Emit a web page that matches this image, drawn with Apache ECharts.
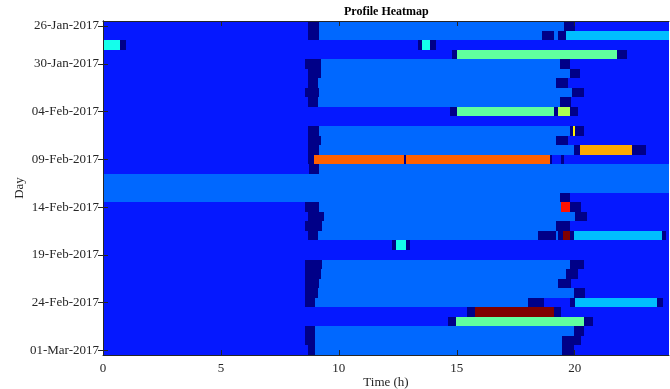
<!DOCTYPE html>
<html>
<head>
<meta charset="utf-8">
<script src="https://cdn.jsdelivr.net/npm/echarts@6/dist/echarts.min.js"></script>
<style>
  html, body { margin: 0; padding: 0; background: #fff; }
  #chart { width: 670px; height: 389px; }
</style>
</head>
<body>
<div id="chart"></div>
<script>
// Day categories (top to bottom)
const days = [
  "26-Jan-2017", "27-Jan-2017", "28-Jan-2017", "29-Jan-2017", "30-Jan-2017",
  "31-Jan-2017", "01-Feb-2017", "02-Feb-2017", "03-Feb-2017", "04-Feb-2017",
  "05-Feb-2017", "06-Feb-2017", "07-Feb-2017", "08-Feb-2017", "09-Feb-2017",
  "10-Feb-2017", "11-Feb-2017", "12-Feb-2017", "13-Feb-2017", "14-Feb-2017",
  "15-Feb-2017", "16-Feb-2017", "17-Feb-2017", "18-Feb-2017", "19-Feb-2017",
  "20-Feb-2017", "21-Feb-2017", "22-Feb-2017", "23-Feb-2017", "24-Feb-2017",
  "25-Feb-2017", "26-Feb-2017", "27-Feb-2017", "28-Feb-2017", "01-Mar-2017",
];

// Days that get a tick label
const labelledDays = [0, 4, 9, 14, 19, 24, 29, 34];

// Hour ticks on the x axis
const hourTicks = [0, 5, 10, 15, 20];

// Level -> colour (jet-like colormap)
const levelColors = {
  D: "#000088",
  B: "#0518FF",
  M: "#0068FF",
  L: "#00BEFF",
  C: "#14FFEB",
  G: "#60FF9E",
  YG: "#ADFF52",
  Y: "#FFF000",
  O: "#FFAA00",
  RO: "#FF6000",
  R: "#FF1200",
  DR: "#800000",
};

// Each day: breakpoints in hours alternating with the level between them
const profiles = [
  [0, "B", 8.68, "D", 9.17, "M", 19.55, "D", 20.03, "B", 24],
  [0, "B", 8.68, "D", 9.17, "M", 18.62, "D", 19.12, "M", 19.28, "D", 19.63, "L", 24],
  [0, "C", 0.74, "D", 0.99, "B", 13.36, "D", 13.51, "C", 13.87, "D", 14.11, "B", 24],
  [0, "B", 14.78, "D", 15.02, "G", 21.79, "D", 22.21, "B", 24],
  [0, "B", 8.58, "D", 9.24, "M", 19.37, "D", 19.79, "B", 24],
  [0, "B", 8.68, "D", 9.24, "M", 19.79, "D", 20.21, "B", 24],
  [0, "B", 8.68, "D", 9.1, "M", 19.21, "D", 19.7, "B", 24],
  [0, "B", 8.58, "D", 9.17, "M", 19.89, "D", 20.38, "B", 24],
  [0, "B", 8.68, "D", 9.1, "M", 19.37, "D", 19.86, "B", 24],
  [0, "B", 14.7, "D", 15.02, "G", 19.11, "D", 19.28, "YG", 19.79, "D", 20.13, "B", 24],
  [0, "B", 24],
  [0, "B", 8.68, "D", 9.17, "M", 19.79, "D", 19.93, "Y", 20.03, "D", 20.38, "B", 24],
  [0, "B", 8.68, "D", 9.24, "M", 19.21, "D", 19.7, "B", 24],
  [0, "B", 8.68, "D", 9.17, "M", 19.96, "D", 20.21, "O", 22.45, "D", 23.03, "B", 24],
  [0, "B", 8.68, "D", 8.93, "RO", 12.77, "D", 12.85, "RO", 18.94, "D", 19.04, "B", 19.44, "D", 19.53, "B", 24],
  [0, "B", 8.75, "D", 9.17, "M", 24],
  [0, "M", 24],
  [0, "M", 24],
  [0, "M", 19.37, "D", 19.79, "B", 24],
  [0, "B", 8.58, "D", 9.17, "M", 19.44, "R", 19.79, "D", 20.28, "B", 24],
  [0, "B", 8.68, "D", 9.35, "M", 20.03, "D", 20.52, "B", 24],
  [0, "B", 8.58, "D", 9.27, "M", 19.21, "D", 19.79, "B", 24],
  [0, "B", 8.68, "D", 9.1, "M", 18.45, "D", 19.21, "M", 19.28, "D", 19.51, "DR", 19.79, "D", 19.96, "L", 23.72, "D", 23.88, "B", 24],
  [0, "B", 12.27, "D", 12.44, "C", 12.84, "D", 13.01, "B", 24],
  [0, "B", 24],
  [0, "B", 8.58, "D", 9.27, "M", 19.79, "D", 20.38, "B", 24],
  [0, "B", 8.58, "D", 9.24, "M", 19.63, "D", 20.13, "B", 24],
  [0, "B", 8.58, "D", 9.17, "M", 19.3, "D", 19.86, "B", 24],
  [0, "B", 8.58, "D", 9.1, "M", 19.96, "D", 20.45, "B", 24],
  [0, "B", 8.58, "D", 9.0, "M", 18.04, "D", 18.69, "B", 19.79, "D", 20.03, "L", 23.47, "D", 23.73, "B", 24],
  [0, "B", 15.45, "D", 15.79, "DR", 19.11, "D", 19.44, "B", 24],
  [0, "B", 14.62, "D", 14.95, "G", 20.38, "D", 20.78, "B", 24],
  [0, "B", 8.58, "D", 9.0, "M", 19.96, "D", 20.38, "B", 24],
  [0, "B", 8.58, "D", 9.0, "M", 19.47, "D", 20.28, "B", 24],
  [0, "B", 8.68, "D", 9.0, "M", 19.47, "D", 19.96, "B", 24],
];

const FONT = "Liberation Serif";
const TEXT_COLOR = "#262626";

// Flatten profiles into [dayIndex, start, end, level]
const segments = [];
profiles.forEach((p, day) => {
  for (let i = 1; i < p.length; i += 2) {
    segments.push([day, p[i - 1], p[i + 1], p[i]]);
  }
});

const chart = echarts.init(document.getElementById("chart"), null, { renderer: "canvas" });

const showDay = (index) => labelledDays.includes(index);

// One rectangle per segment, snapped to whole pixels so rows don't seam
function renderItem(params, api) {
  const start = api.coord([api.value(1), api.value(0)]);
  const end = api.coord([api.value(2), api.value(0)]);
  const h = api.size([0, 1])[1];
  const y0 = Math.round(start[1] - h / 2);
  const y1 = Math.round(start[1] + h / 2);
  const x0 = Math.round(start[0]);
  const x1 = Math.round(end[0]);
  return {
    type: "rect",
    shape: { x: x0, y: y0, width: Math.max(x1 - x0, 1), height: y1 - y0 },
    style: { fill: levelColors[segments[params.dataIndex][3]] },
  };
}

const baseX = {
  type: "value",
  min: 0,
  max: 24,
  interval: 5,
  z: 10,
  splitLine: { show: false },
  axisLine: { show: true, lineStyle: { color: TEXT_COLOR, width: 1 } },
  axisTick: {
    show: true,
    inside: true,
    length: 5,
    lineStyle: { color: TEXT_COLOR },
    customValues: hourTicks,
  },
};

const baseY = {
  type: "category",
  data: days,
  inverse: true,
  z: 10,
  splitLine: { show: false },
  axisLine: { show: true, lineStyle: { color: TEXT_COLOR, width: 1 } },
  axisTick: {
    show: true,
    inside: true,
    length: 5,
    alignWithLabel: true,
    interval: showDay,
    lineStyle: { color: TEXT_COLOR },
  },
};

const option = {
  animation: false,
  backgroundColor: "#fff",
  title: {
    text: "Profile Heatmap",
    left: 344,
    top: 6,
    padding: 0,
    textStyle: {
      fontFamily: FONT,
      fontWeight: "bold",
      fontSize: 12,
      color: "#000",
    },
  },
  grid: {
    left: 103,
    right: 1,
    top: 21,
    bottom: 34,
    outerBoundsMode: "none",
  },
  xAxis: [
    {
      ...baseX,
      position: "bottom",
      name: "Time (h)",
      nameLocation: "middle",
      nameGap: 28,
      nameMoveOverlap: false,
      nameTextStyle: { fontFamily: FONT, fontSize: 13, color: TEXT_COLOR, verticalAlign: "middle", padding: 0 },
      axisLabel: {
        fontFamily: FONT,
        fontSize: 13,
        color: TEXT_COLOR,
        margin: 7,
        customValues: hourTicks,
      },
    },
    {
      ...baseX,
      position: "top",
      axisLabel: { show: false },
    },
  ],
  yAxis: [
    {
      ...baseY,
      position: "left",
      name: "Day",
      nameLocation: "middle",
      nameGap: 83,
      nameMoveOverlap: false,
      nameTextStyle: { fontFamily: FONT, fontSize: 13, color: TEXT_COLOR, verticalAlign: "middle", padding: 0 },
      axisLabel: {
        fontFamily: FONT,
        fontSize: 13,
        color: TEXT_COLOR,
        margin: 4,
        interval: showDay,
      },
    },
    {
      ...baseY,
      position: "right",
      axisLabel: { show: false },
    },
  ],
  series: [
    {
      type: "custom",
      xAxisIndex: 0,
      yAxisIndex: 0,
      renderItem: renderItem,
      clip: true,
      encode: { x: [1, 2], y: 0 },
      data: segments.map((s) => [s[0], s[1], s[2]]),
    },
  ],
};

chart.setOption(option);
</script>
</body>
</html>
